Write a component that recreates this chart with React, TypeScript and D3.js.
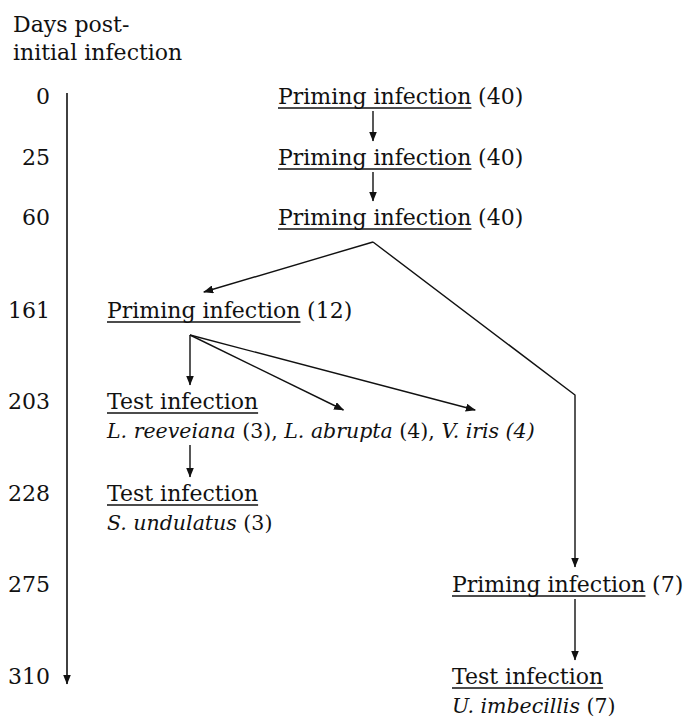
import React, { useEffect, useRef } from 'react';
import * as d3 from 'd3';

const W = 684;
const H = 719;

// header + time axis
const headerLines = ['Days post-', 'initial infection'];
const dayTicks = [0, 25, 60, 161, 203, 228, 275, 310];

// nodes of the flow diagram
const nodeIds = ['p0', 'p25', 'p60', 'p161', 't203', 't228', 'p275', 't310'];
const nodeDays = [0, 25, 60, 161, 203, 228, 275, 310];
const nodeCols = ['c', 'c', 'c', 'l', 'l', 'l', 'r', 'r'];
const nodeTitles = [
  'Priming infection', 'Priming infection', 'Priming infection', 'Priming infection',
  'Test infection', 'Test infection', 'Priming infection', 'Test infection',
];
const nodeCounts = ['(40)', '(40)', '(40)', '(12)', '', '', '(7)', ''];

// second line of the test nodes (italic = species name)
const detailT203 = [
  { t: 'L. reeveiana', i: true },
  { t: ' (3), ', i: false },
  { t: 'L. abrupta', i: true },
  { t: ' (4), ', i: false },
  { t: 'V. iris', i: true },
  { t: ' (4)', i: true },
];
const detailT228 = [
  { t: 'S. undulatus', i: true },
  { t: ' (3)', i: false },
];
const detailT310 = [
  { t: 'U. imbecillis', i: true },
  { t: ' (7)', i: false },
];
const details: Record<string, { t: string; i: boolean }[]> = {
  t203: detailT203,
  t228: detailT228,
  t310: detailT310,
};

const links = [
  { source: 'p0', target: 'p25' },
  { source: 'p25', target: 'p60' },
  { source: 'p60', target: 'p161' },
  { source: 'p60', target: 'p275', bendAt: 203 },
  { source: 'p161', target: 't203' },
  { source: 'p161', target: 't203', segment: 'L. abrupta' },
  { source: 'p161', target: 't203', segment: 'V. iris' },
  { source: 't203', target: 't228' },
  { source: 'p275', target: 't310' },
];

const App = () => {
  const svgRef = useRef<SVGSVGElement>(null);

  useEffect(() => {
    const svg = d3.select(svgRef.current);
    svg.selectAll('*').remove();

    const font = 'DejaVu Serif, Liberation Serif, serif';
    const fs = 22;       // titles, header, ticks
    const fsDetail = 20.5; // species lines
    const ink = '#111';

    // row baselines: first rows closer together
    const rowGaps = [61, 60, 93, 91, 92, 91, 92];
    const y = d3.scaleLinear()
      .domain(dayTicks)
      .range([104, ...Array.from(d3.cumsum(rowGaps), (d) => 104 + d)]);

    const colX: Record<string, number> = { l: 107, c: 278, r: 452 };
    const linkX: Record<string, number> = { l: 190, c: 373, r: 575 };
    const axisX = 67;
    const detailDy = 29;

    svg.append('defs').append('marker')
      .attr('id', 'ah')
      .attr('viewBox', '0 0 10 8')
      .attr('refX', 9.5)
      .attr('refY', 4)
      .attr('markerWidth', 10)
      .attr('markerHeight', 8)
      .attr('markerUnits', 'userSpaceOnUse')
      .attr('orient', 'auto')
      .append('path')
      .attr('d', 'M0,0L10,4L0,8Z')
      .attr('fill', ink);

    const g = svg.append('g')
      .attr('font-family', font)
      .attr('font-size', fs)
      .attr('fill', ink);

    // header
    g.selectAll('.hdr')
      .data(headerLines)
      .enter().append('text')
      .attr('class', 'hdr')
      .attr('x', 13)
      .attr('y', (d, i) => 32 + i * 28)
      .text((d) => d);

    // time axis
    g.selectAll('.tick')
      .data(dayTicks)
      .enter().append('text')
      .attr('class', 'tick')
      .attr('x', 50)
      .attr('y', (d) => y(d))
      .attr('text-anchor', 'end')
      .text((d) => d);

    svg.append('line')
      .attr('x1', axisX)
      .attr('x2', axisX)
      .attr('y1', y(0) - 11)
      .attr('y2', y(310))
      .attr('stroke', ink)
      .attr('stroke-width', 1.6)
      .attr('marker-end', 'url(#ah)');

    // nodes
    const info: Record<string, any> = {};
    nodeIds.forEach((id, k) => {
      const x0 = colX[nodeCols[k]];
      const base = y(nodeDays[k]);
      const title = g.append('text')
        .attr('x', x0)
        .attr('y', base)
        .text(nodeTitles[k]);
      const tw = (title.node() as SVGTextElement).getComputedTextLength();
      g.append('line')
        .attr('x1', x0)
        .attr('x2', x0 + tw)
        .attr('y1', base + 4)
        .attr('y2', base + 4)
        .attr('stroke', ink)
        .attr('stroke-width', 1.4);
      if (nodeCounts[k]) {
        g.append('text')
          .attr('x', x0 + tw + fs * 0.3)
          .attr('y', base)
          .text(nodeCounts[k]);
      }
      const segs: Record<string, number> = {};
      const det = details[id];
      if (det) {
        const dt = g.append('text')
          .attr('x', x0)
          .attr('y', base + detailDy)
          .attr('font-size', fsDetail);
        det.forEach((s) => {
          dt.append('tspan')
            .attr('font-style', s.i ? 'italic' : 'normal')
            .text(s.t);
        });
        const node = dt.node() as SVGTextElement;
        let idx = 0;
        det.forEach((s) => {
          const a = node.getStartPositionOfChar(idx).x;
          const b = node.getEndPositionOfChar(idx + s.t.length - 1).x;
          segs[s.t] = (a + b) / 2;
          idx += s.t.length;
        });
      }
      info[id] = {
        col: nodeCols[k],
        base,
        bottom: base + (det ? detailDy : 0),
        titleMid: x0 + tw / 2,
        segs,
      };
    });

    // links
    const outCount = d3.rollup(links, (v) => v.length, (d) => d.source);
    const line = d3.line<[number, number]>();
    links.forEach((lk: any) => {
      const s = info[lk.source];
      const t = info[lk.target];
      const sx = linkX[s.col];
      const start: [number, number] = outCount.get(lk.source)! > 1
        ? [sx, s.base + 17]
        : [sx, s.bottom + 7];
      const pts: [number, number][] = [start];
      if (lk.segment) {
        pts.push([t.segs[lk.segment] + 5, t.base + 1]);
      } else if (lk.bendAt !== undefined) {
        pts.push([linkX[t.col], y(lk.bendAt) - 14]);
        pts.push([linkX[t.col], t.base - 25]);
      } else if (t.col === s.col) {
        pts.push([sx, t.base - 24]);
      } else {
        pts.push([t.titleMid, t.base - 26]);
      }
      svg.append('path')
        .attr('d', line(pts))
        .attr('fill', 'none')
        .attr('stroke', ink)
        .attr('stroke-width', 1.4)
        .attr('stroke-linejoin', 'round')
        .attr('marker-end', 'url(#ah)');
    });
  }, []);

  return (
    <svg
      ref={svgRef}
      width={W}
      height={H}
      style={{ position: 'absolute', left: 0, top: 0, background: '#fff' }}
    />
  );
};

export default App;
